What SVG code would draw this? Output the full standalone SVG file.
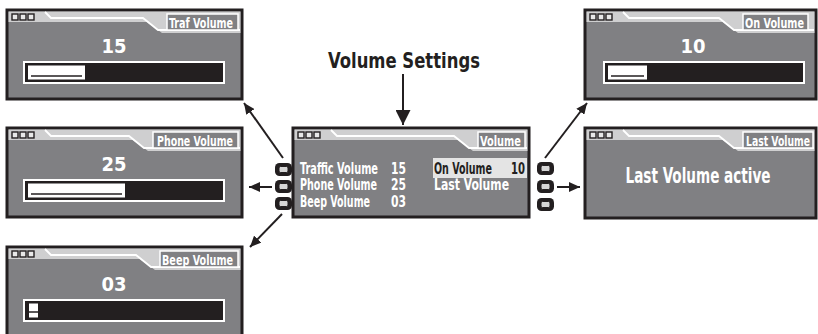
<svg xmlns="http://www.w3.org/2000/svg" width="818" height="334" viewBox="0 0 818 334">
<defs>
<style>
.scr{fill:#808083;stroke:#231f20;stroke-width:3}
.hdr{fill:#cfcfd0;stroke:none}
.wl{fill:none;stroke:#ffffff;stroke-width:1.8}
.sq{fill:#e8e8e8;stroke:#231f20;stroke-width:1.4}
.lbox{fill:#808083;stroke:#ffffff;stroke-width:1.5}
.t{font-family:"Liberation Sans Narrow","DejaVu Sans Condensed","DejaVu Sans",sans-serif;font-weight:bold}
.lbl{fill:#ffffff;font-size:14px;text-anchor:end}
.num{fill:#ffffff;font-size:20px;text-anchor:middle}
.row{fill:#ffffff;font-size:15px}
.dark{fill:#231f20}
.bar{fill:#231f20;stroke:#ffffff;stroke-width:2}
.seg{fill:#ffffff}
.segl{stroke:#231f20;stroke-width:1.5}
.btn{fill:#231f20}
.btni{fill:#d6d6d6;stroke:#231f20;stroke-width:1}
.conn{stroke:#231f20;stroke-width:2;fill:none}
</style>
<marker id="ah" markerUnits="userSpaceOnUse" markerWidth="11" markerHeight="10" refX="11" refY="5" orient="auto">
<path d="M0,0 L11,5 L0,10 Z" fill="#231f20"/>
</marker>
<marker id="ahBig" markerUnits="userSpaceOnUse" markerWidth="15" markerHeight="15" refX="15" refY="7.5" orient="auto">
<path d="M0,0 L15,7.5 L0,15 Z" fill="#231f20"/>
</marker>
</defs>
<rect x="0" y="0" width="818" height="334" fill="#ffffff"/>

<text class="t" x="404" y="68" font-size="21" text-anchor="middle" fill="#231f20" textLength="152" lengthAdjust="spacingAndGlyphs">Volume Settings</text>

<g id="connectors">
<line class="conn" x1="403" y1="74" x2="403" y2="125" stroke-width="2.5" marker-end="url(#ahBig)"/>
<line class="conn" x1="283" y1="158" x2="244" y2="103" marker-end="url(#ah)"/>
<line class="conn" x1="272" y1="187" x2="249" y2="187" marker-end="url(#ah)"/>
<line class="conn" x1="282" y1="214" x2="250" y2="247" marker-end="url(#ah)"/>
<line class="conn" x1="545" y1="158" x2="587" y2="103" marker-end="url(#ah)"/>
<line class="conn" x1="557" y1="187" x2="580" y2="187" marker-end="url(#ah)"/>
</g>

<g id="traf-volume" transform="translate(7,10)">
<rect class="scr" x="0" y="0" width="235" height="89"/>
<polygon class="hdr" points="1.5,1.5 233.5,1.5 233.5,23 155,23 140,12 1.5,12"/>
<polyline class="wl" points="38,2 44,8 136,8 151,20 233,20"/>
<rect class="sq" x="5" y="4" width="6" height="6"/><rect class="sq" x="13" y="4" width="6" height="6"/><rect class="sq" x="21" y="4" width="6" height="6"/>
<rect class="lbox" x="160" y="4" width="71" height="16"/>
<text class="t lbl" x="226" y="17.5" textLength="64" lengthAdjust="spacingAndGlyphs">Traf Volume</text>
<text class="t num" x="107" y="43">15</text>
<rect class="bar" x="17" y="52" width="200" height="21"/>
<rect class="seg" x="21" y="55.5" width="57" height="14"/>
<line class="segl" x1="24" y1="66" x2="75" y2="66"/>
</g>

<g id="phone-volume" transform="translate(7,128)">
<rect class="scr" x="0" y="0" width="235" height="89"/>
<polygon class="hdr" points="1.5,1.5 233.5,1.5 233.5,23 141,23 126,12 1.5,12"/>
<polyline class="wl" points="38,2 44,8 122,8 137,20 233,20"/>
<rect class="sq" x="5" y="4" width="6" height="6"/><rect class="sq" x="13" y="4" width="6" height="6"/><rect class="sq" x="21" y="4" width="6" height="6"/>
<rect class="lbox" x="146" y="4" width="85" height="16"/>
<text class="t lbl" x="226" y="17.5" textLength="76" lengthAdjust="spacingAndGlyphs">Phone Volume</text>
<text class="t num" x="107" y="43">25</text>
<rect class="bar" x="17" y="52" width="200" height="21"/>
<rect class="seg" x="21" y="55.5" width="97" height="14"/>
<line class="segl" x1="24" y1="66" x2="115" y2="66"/>
</g>

<g id="beep-volume" transform="translate(7,247)">
<rect class="scr" x="0" y="0" width="235" height="92"/>
<polygon class="hdr" points="1.5,1.5 233.5,1.5 233.5,23 148,23 133,12 1.5,12"/>
<polyline class="wl" points="38,2 44,8 129,8 144,20 233,20"/>
<rect class="sq" x="5" y="4" width="6" height="6"/><rect class="sq" x="13" y="4" width="6" height="6"/><rect class="sq" x="21" y="4" width="6" height="6"/>
<rect class="lbox" x="153" y="4" width="78" height="16"/>
<text class="t lbl" x="226" y="17.5" textLength="71" lengthAdjust="spacingAndGlyphs">Beep Volume</text>
<text class="t num" x="107" y="44">03</text>
<rect class="bar" x="17" y="53" width="200" height="21"/>
<rect class="seg" x="22" y="56.5" width="9" height="14"/>
<line class="segl" x1="22" y1="65" x2="31" y2="65"/>
</g>

<g id="volume-menu" transform="translate(293,128)">
<rect class="scr" x="0" y="0" width="236" height="89"/>
<polygon class="hdr" points="1.5,1.5 234.5,1.5 234.5,23 180,23 165,12 1.5,12"/>
<polyline class="wl" points="38,2 44,8 161,8 176,20 234,20"/>
<rect class="sq" x="5" y="4" width="6" height="6"/><rect class="sq" x="13" y="4" width="6" height="6"/><rect class="sq" x="21" y="4" width="6" height="6"/>
<rect class="lbox" x="185" y="4" width="47" height="16"/>
<text class="t lbl" x="228" y="17.5" textLength="41" lengthAdjust="spacingAndGlyphs">Volume</text>
<rect x="140" y="30" width="94" height="20" fill="#e4e4e4"/>
<text class="t row" x="7" y="45.5" textLength="78" lengthAdjust="spacingAndGlyphs">Traffic Volume</text>
<text class="t row" x="98" y="45.5" textLength="15" lengthAdjust="spacingAndGlyphs">15</text>
<text class="t row" x="7" y="62" textLength="77" lengthAdjust="spacingAndGlyphs">Phone Volume</text>
<text class="t row" x="98" y="62" textLength="15" lengthAdjust="spacingAndGlyphs">25</text>
<text class="t row" x="7" y="78.5" textLength="70" lengthAdjust="spacingAndGlyphs">Beep Volume</text>
<text class="t row" x="98" y="78.5" textLength="15" lengthAdjust="spacingAndGlyphs">03</text>
<text class="t row dark" x="141" y="45.5" textLength="58" lengthAdjust="spacingAndGlyphs">On Volume</text>
<text class="t row dark" x="218" y="45.5" textLength="14" lengthAdjust="spacingAndGlyphs">10</text>
<text class="t row" x="141" y="62" textLength="75" lengthAdjust="spacingAndGlyphs">Last Volume</text>
</g>

<g id="buttons-left">
<rect class="btn" x="275" y="163" width="17" height="13" rx="4.5"/><rect class="btni" x="279" y="166.5" width="9" height="6" rx="1.5"/>
<rect class="btn" x="275" y="180" width="17" height="13" rx="4.5"/><rect class="btni" x="279" y="183.5" width="9" height="6" rx="1.5"/>
<rect class="btn" x="275" y="197" width="17" height="13" rx="4.5"/><rect class="btni" x="279" y="200.5" width="9" height="6" rx="1.5"/>
</g>
<g id="buttons-right">
<rect class="btn" x="537" y="162" width="17" height="13" rx="4.5"/><rect class="btni" x="541" y="165.5" width="9" height="6" rx="1.5"/>
<rect class="btn" x="537" y="180" width="17" height="13" rx="4.5"/><rect class="btni" x="541" y="183.5" width="9" height="6" rx="1.5"/>
<rect class="btn" x="537" y="198" width="17" height="13" rx="4.5"/><rect class="btni" x="541" y="201.5" width="9" height="6" rx="1.5"/>
</g>

<g id="on-volume" transform="translate(585,10)">
<rect class="scr" x="0" y="0" width="231" height="89"/>
<polygon class="hdr" points="1.5,1.5 229.5,1.5 229.5,23 153,23 138,12 1.5,12"/>
<polyline class="wl" points="38,2 44,8 134,8 149,20 229,20"/>
<rect class="sq" x="5" y="4" width="6" height="6"/><rect class="sq" x="13" y="4" width="6" height="6"/><rect class="sq" x="21" y="4" width="6" height="6"/>
<rect class="lbox" x="158" y="4" width="65" height="16"/>
<text class="t lbl" x="219" y="17.5" textLength="59" lengthAdjust="spacingAndGlyphs">On Volume</text>
<text class="t num" x="108" y="43">10</text>
<rect class="bar" x="19" y="52" width="200" height="21"/>
<rect class="seg" x="23" y="55.5" width="39" height="14"/>
<line class="segl" x1="26" y1="66" x2="59" y2="66"/>
</g>

<g id="last-volume" transform="translate(585,128)">
<rect class="scr" x="0" y="0" width="231" height="90"/>
<polygon class="hdr" points="1.5,1.5 229.5,1.5 229.5,23 153,23 138,12 1.5,12"/>
<polyline class="wl" points="38,2 44,8 134,8 149,20 229,20"/>
<rect class="sq" x="5" y="4" width="6" height="6"/><rect class="sq" x="13" y="4" width="6" height="6"/><rect class="sq" x="21" y="4" width="6" height="6"/>
<rect class="lbox" x="158" y="4" width="70" height="16"/>
<text class="t lbl" x="225" y="17.5" textLength="64" lengthAdjust="spacingAndGlyphs">Last Volume</text>
<text class="t" x="113" y="55" font-size="22" fill="#ffffff" text-anchor="middle" textLength="145" lengthAdjust="spacingAndGlyphs">Last Volume active</text>
</g>
</svg>
